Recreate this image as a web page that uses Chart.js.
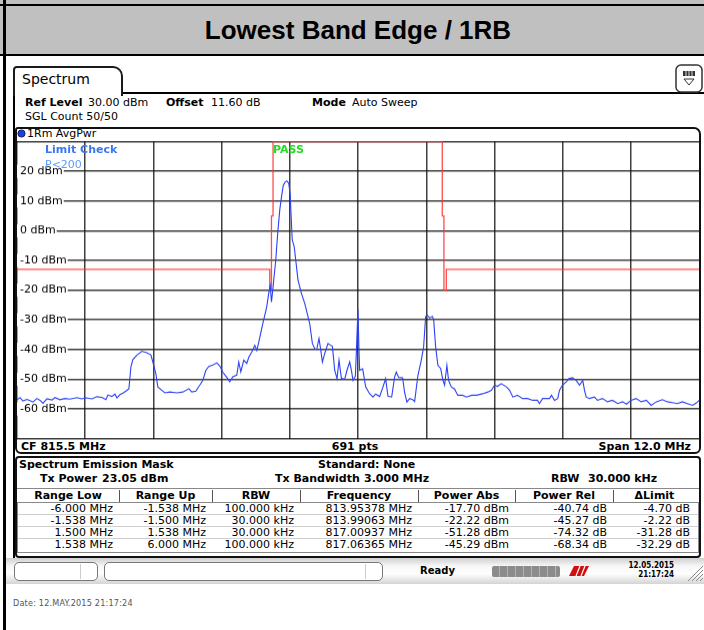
<!DOCTYPE html>
<html>
<head>
<meta charset="utf-8">
<title>Lowest Band Edge / 1RB</title>
<script src="https://cdn.jsdelivr.net/npm/chart.js@4.4.1/dist/chart.umd.min.js"></script>
<style>
  html, body { margin: 0; padding: 0; }
  body { width: 704px; height: 630px; position: relative; overflow: hidden; background: #fff;
         font-family: "DejaVu Sans", sans-serif; font-size: 11px; color: #000; }
  .a { position: absolute; white-space: nowrap; line-height: 13px; }
  .b { font-weight: bold; }
  .blk { position: absolute; background: #000; }
  #spec { position: absolute; z-index: 2; }
  .cell { position: absolute; white-space: nowrap; line-height: 13px; }
</style>
</head>
<body>

<!-- title band -->
<div class="a" style="left:0;top:0;width:704px;height:56px;background:#c0c0c0;"></div>
<div class="blk" style="left:0;top:4px;width:704px;height:2px;"></div>
<div class="blk" style="left:0;top:54px;width:704px;height:2px;"></div>
<div class="a" style="left:8px;top:15px;width:700px;text-align:center;font:bold 26px 'Liberation Sans',Arial,sans-serif;line-height:30px;">Lowest Band Edge / 1RB</div>
<div class="blk" style="left:3px;top:0;width:3px;height:630px;"></div>

<!-- Spectrum tab + panel -->
<div class="blk" style="left:122px;top:92px;width:582px;height:2px;"></div>
<div class="a" style="left:13px;top:66px;width:106px;height:28px;border:2px solid #1a1a1a;border-bottom:none;border-radius:4px 10px 0 0;background:#fff;z-index:1;"></div>
<div class="a" style="left:22px;top:71px;font-size:14px;line-height:16px;z-index:1;">Spectrum</div>
<div class="blk" style="left:13px;top:92px;width:2px;height:466px;"></div>
<svg class="a" style="left:675px;top:64px;" width="28" height="29">
  <rect x="1" y="1" width="26" height="27" rx="5" ry="5" fill="#fff" stroke="#333" stroke-width="1.5"/>
  <rect x="8" y="7" width="12" height="5" fill="#333"/>
  <line x1="11" y1="7" x2="11" y2="12" stroke="#ddd"/>
  <line x1="14" y1="7" x2="14" y2="12" stroke="#ddd"/>
  <line x1="17" y1="7" x2="17" y2="12" stroke="#ddd"/>
  <path d="M9 15 L19 15 L14 21 Z" fill="none" stroke="#333" stroke-width="1"/>
</svg>

<!-- setting info -->
<div class="a b" style="left:25px;top:96px;">Ref Level</div>
<div class="a" style="left:88px;top:96px;">30.00 dBm</div>
<div class="a b" style="left:166px;top:96px;">Offset</div>
<div class="a" style="left:211px;top:96px;">11.60 dB</div>
<div class="a b" style="left:312px;top:96px;">Mode</div>
<div class="a" style="left:352px;top:96px;">Auto Sweep</div>
<div class="a" style="left:25px;top:110px;">SGL Count 50/50</div>

<!-- trace box -->
<div class="a" style="left:15px;top:127px;width:686px;height:327px;box-sizing:border-box;border:2px solid #111;border-radius:3px 7px 6px 6px;z-index:3;pointer-events:none;"></div>
<svg class="a" style="left:17px;top:129px;" width="10" height="10"><circle cx="4.5" cy="4.5" r="3.6" fill="#1f3fe0" stroke="#102070" stroke-width="1"/></svg>
<div class="a" style="left:27px;top:127px;">1Rm AvgPwr</div>

<canvas id="spec" width="683" height="296" style="left:17px;top:142px;"></canvas>

<div class="a b" style="left:45px;top:143px;color:#3a78f0;z-index:4;">Limit Check</div>
<div class="a" style="left:45px;top:158px;color:#5c9cf6;z-index:4;">P&lt;200</div>
<div class="a b" style="left:273px;top:143px;color:#22dd22;z-index:4;">PASS</div>

<div class="a b" style="left:21px;top:440px;">CF 815.5 MHz</div>
<div class="a b" style="left:305px;top:440px;width:100px;text-align:center;">691 pts</div>
<div class="a b" style="left:540px;top:440px;width:151px;text-align:right;">Span 12.0 MHz</div>

<!-- emission mask table -->
<div class="a" style="left:15px;top:456px;width:686px;height:102px;box-sizing:border-box;border:2px solid #111;border-radius:4px;"></div>
<div class="a b" style="left:19px;top:458px;">Spectrum Emission Mask</div>
<div class="a b" style="left:318px;top:458px;">Standard: None</div>
<div class="a b" style="left:40px;top:472px;">Tx Power</div>
<div class="a b" style="left:102px;top:472px;">23.05 dBm</div>
<div class="a b" style="left:275px;top:472px;">Tx Bandwidth</div>
<div class="a b" style="left:364px;top:472px;">3.000 MHz</div>
<div class="a b" style="left:551px;top:472px;">RBW</div>
<div class="a b" style="left:588px;top:472px;">30.000 kHz</div>
<div id="sem"></div>

<!-- status bar -->
<div class="a" style="left:6px;top:558px;width:698px;height:26px;background:linear-gradient(#cfcfcf,#f6f6f6 30%,#ffffff 60%,#d4d4d4);"></div>
<div class="a" style="left:14px;top:562px;width:84px;height:19px;box-sizing:border-box;border:1px solid #777;border-radius:5px;background:#fff;"></div>
<div class="a" style="left:80px;top:564px;width:1px;height:15px;background:#ccc;"></div>
<div class="a" style="left:104px;top:562px;width:279px;height:19px;box-sizing:border-box;border:1px solid #777;border-radius:5px;background:#fff;"></div>
<div class="a" style="left:365px;top:564px;width:1px;height:15px;background:#ccc;"></div>
<div class="a b" style="left:420px;top:565px;font-size:10px;line-height:12px;">Ready</div>
<div class="a" style="left:492px;top:566px;width:68px;height:11px;border-radius:2px;background:repeating-linear-gradient(90deg,#8c8c8c 0 7px,#b4b4b4 7px 8px);"></div>
<svg class="a" style="left:567px;top:564px;" width="24" height="14">
  <path d="M2 12 L7 2 L22 2 L17 12 Z" fill="#d01010"/>
  <line x1="9" y1="12" x2="13" y2="2" stroke="#fff" stroke-width="1.2"/>
  <line x1="14" y1="12" x2="18" y2="2" stroke="#fff" stroke-width="1.2"/>
</svg>
<div class="a b" style="left:600px;top:561px;width:74px;text-align:right;font-family:'DejaVu Sans Condensed','DejaVu Sans';font-size:8px;line-height:10px;">12.05.2015</div>
<div class="a b" style="left:600px;top:570px;width:74px;text-align:right;font-family:'DejaVu Sans Condensed','DejaVu Sans';font-size:8px;line-height:10px;">21:17:24</div>
<svg class="a" style="left:686px;top:564px;" width="18" height="18">
  <line x1="17" y1="2" x2="2" y2="17" stroke="#888"/>
  <line x1="17" y1="6" x2="6" y2="17" stroke="#888"/>
  <line x1="17" y1="10" x2="10" y2="17" stroke="#888"/>
  <line x1="17" y1="14" x2="14" y2="17" stroke="#888"/>
</svg>

<div class="a" style="left:13px;top:597px;font-family:'DejaVu Sans Condensed','DejaVu Sans';font-size:9px;line-height:12px;color:#555;letter-spacing:0.2px;">Date: 12.MAY.2015  21:17:24</div>

<script>
// ---- trace 1 (1Rm AvgPwr) ----
// offset from centre frequency (MHz) and level (dBm)
const CF_MHZ = 815.5;
const SPAN_MHZ = 12;

const traceOffset = [
  -6.000, -5.947, -5.895, -5.824, -5.772, -5.719, -5.649, -5.596, -5.543, -5.473,
  -5.385, -5.332, -5.245, -5.157, -5.069, -4.946, -4.858, -4.788, -4.682, -4.595,
  -4.507, -4.436, -4.401, -4.331, -4.278, -4.243, -4.190, -4.138, -4.085, -4.032,
  -3.997, -3.962, -3.892, -3.804, -3.716, -3.646, -3.611, -3.558, -3.523, -3.453,
  -3.400, -3.312, -3.189, -3.084, -2.978, -2.925, -2.855, -2.785, -2.732, -2.679,
  -2.627, -2.556, -2.486, -2.433, -2.381, -2.310, -2.258, -2.205, -2.135, -2.100,
  -2.064, -2.012, -1.959, -1.924, -1.871, -1.818, -1.783, -1.748, -1.678, -1.643,
  -1.608, -1.573, -1.546, -1.525, -1.502, -1.485, -1.450, -1.414, -1.379, -1.344,
  -1.318, -1.291, -1.256, -1.221, -1.195, -1.177, -1.160, -1.124, -1.098, -1.058,
  -0.998, -0.940, -0.882, -0.852, -0.805, -0.764, -0.729, -0.689, -0.659, -0.629,
  -0.589, -0.531, -0.488, -0.453, -0.413, -0.372, -0.337, -0.295, -0.237, -0.197,
  -0.149, -0.119, -0.091, -0.049, -0.026, -0.004, 0.014, 0.026, 0.079, 0.132,
  0.202, 0.260, 0.307, 0.378, 0.436, 0.483, 0.524, 0.589, 0.641, 0.671,
  0.712, 0.782, 0.817, 0.857, 0.905, 0.958, 0.993, 1.051, 1.110, 1.151,
  1.186, 1.209, 1.256, 1.304, 1.327, 1.362, 1.402, 1.450, 1.490, 1.520,
  1.560, 1.590, 1.638, 1.696, 1.753, 1.836, 1.906, 1.994, 2.082, 2.187,
  2.281, 2.346, 2.398, 2.451, 2.516, 2.609, 2.662, 2.720, 2.802, 2.890,
  2.978, 3.071, 3.154, 3.189, 3.242, 3.365, 3.400, 3.453, 3.510, 3.540,
  3.593, 3.658, 3.704, 3.769, 3.834, 3.892, 3.950, 3.980, 4.010, 4.067,
  4.155, 4.208, 4.296, 4.384, 4.472, 4.565, 4.647, 4.718, 4.800, 4.888,
  4.976, 5.069, 5.152, 5.245, 5.350, 5.438, 5.526, 5.614, 5.701, 5.789,
  5.882, 5.947, 6.000
];
const traceLevel = [
  -56.9, -56.2, -57.3, -56.8, -57.2, -57.7, -56.5, -57.1, -58.1, -56.6,
  -57.0, -56.2, -56.9, -56.5, -56.7, -56.2, -56.6, -56.3, -56.6, -55.9,
  -56.1, -56.9, -55.3, -55.8, -55.0, -56.3, -55.2, -54.7, -54.0, -53.2,
  -45.9, -43.4, -41.9, -40.6, -41.1, -41.8, -44.2, -48.1, -52.6, -53.7,
  -54.6, -54.3, -54.6, -54.3, -53.2, -54.3, -54.0, -52.0, -50.4, -47.0,
  -45.7, -45.2, -44.5, -45.6, -47.6, -49.4, -50.9, -49.2, -48.6, -44.2,
  -47.5, -43.6, -44.7, -42.6, -40.8, -38.6, -40.3, -37.5, -31.3, -28.5,
  -25.6, -21.1, -18.5, -24.0, -20.0, -16.6, -10.0, -0.5, 7.0, 12.0,
  15.2, 16.2, 16.8, 16.0, 12.0, 4.0, -3.0, -5.5, -9.9, -16.6,
  -21.1, -24.5, -29.0, -31.3, -38.0, -39.7, -40.0, -36.3, -40.0, -44.2,
  -41.4, -38.0, -38.5, -39.0, -47.0, -49.8, -43.6, -49.7, -50.0, -47.0,
  -44.2, -47.0, -50.4, -49.0, -38.0, -26.5, -40.0, -47.0, -46.5, -52.6,
  -54.9, -56.0, -55.0, -55.8, -52.6, -49.8, -55.7, -56.0, -49.2, -47.6,
  -49.4, -49.5, -54.5, -57.7, -56.5, -56.9, -57.5, -48.7, -43.6, -39.1,
  -29.0, -28.4, -29.3, -28.8, -29.8, -39.1, -45.3, -46.4, -50.3, -52.0,
  -45.3, -50.4, -52.6, -53.3, -55.4, -55.4, -56.0, -55.4, -55.4, -54.9,
  -54.3, -53.7, -52.0, -52.4, -51.5, -52.6, -53.7, -56.0, -55.4, -56.5,
  -56.5, -57.1, -57.1, -58.2, -56.5, -56.5, -55.4, -57.1, -56.5, -53.7,
  -52.0, -50.9, -49.8, -49.5, -50.4, -52.0, -50.4, -53.7, -56.0, -56.5,
  -56.0, -57.1, -56.5, -57.6, -57.1, -58.2, -57.6, -58.4, -57.1, -56.5,
  -57.6, -57.1, -58.8, -57.6, -56.9, -57.6, -57.9, -58.2, -57.6, -58.2,
  -58.8, -58.0, -57.1
];

// ---- emission mask limit line ----
const limitOffset = [-6, -1.555, -1.555, -1.525, -1.525, -1.497, -1.497, 1.479, 1.479, 1.508, 1.508, 1.550, 1.550, 6];
const limitLevel  = [-13, -13, -20, -20, 5, 5, 30, 30, 5, 5, -20, -20, -13, -13];

// ---- axis ----
const REF_LEVEL = 30;
const BOTTOM_LEVEL = -70;
const yTickValues = [20, 10, 0, -10, -20, -30, -40, -50, -60];

// ---- result table ----
const semHeaders = ['Range Low', 'Range Up', 'RBW', 'Frequency', 'Power Abs', 'Power Rel', '\u0394Limit'];
const rangeLow   = ['-6.000 MHz', '-1.538 MHz', '1.500 MHz', '1.538 MHz'];
const rangeUp    = ['-1.538 MHz', '-1.500 MHz', '1.538 MHz', '6.000 MHz'];
const rbwCol     = ['100.000 kHz', '30.000 kHz', '30.000 kHz', '100.000 kHz'];
const freqCol    = ['813.95378 MHz', '813.99063 MHz', '817.00937 MHz', '817.06365 MHz'];
const powerAbs   = ['-17.70 dBm', '-22.22 dBm', '-51.28 dBm', '-45.29 dBm'];
const powerRel   = ['-40.74 dB', '-45.27 dB', '-74.32 dB', '-68.34 dB'];
const deltaLimit = ['-4.70 dB', '-2.22 dB', '-31.28 dB', '-32.29 dB'];

// column edges of the table (layout only)
const colEdges = [17, 119, 212, 300, 418, 515, 613, 696];

function buildTable() {
    const sem = document.getElementById('sem');
    const cols = [rangeLow, rangeUp, rbwCol, freqCol, powerAbs, powerRel, deltaLimit];
    let html = '';
    html += `<div class="a" style="left:17px;top:488px;width:682px;height:14px;box-sizing:border-box;border-top:1px solid #888;"></div>`;
    html += `<div class="a" style="left:17px;top:502px;width:682px;height:51px;box-sizing:border-box;border:1px solid #888;"></div>`;
    for (let r = 1; r < 4; r++) {
        html += `<div class="a" style="left:18px;top:${502 + r * 12}px;width:680px;height:1px;background:#cfcfcf;"></div>`;
    }
    semHeaders.forEach((h, c) => {
        const l = colEdges[c], w = colEdges[c + 1] - colEdges[c];
        html += `<div class="cell b" style="left:${l}px;top:489px;width:${w}px;text-align:center;">${h}</div>`;
        if (c > 0) html += `<div class="a" style="left:${l}px;top:490px;width:1px;height:12px;background:#555;"></div>`;
        cols[c].forEach((v, r) => {
            html += `<div class="cell" style="left:${l}px;top:${502 + r * 12}px;width:${w - 6}px;text-align:right;">${v}</div>`;
        });
    });
    sem.innerHTML = html;
}

function renderSpectrum() {
    const canvas = document.getElementById('spec');
    const trace = traceOffset.map((f, i) => ({ x: f, y: traceLevel[i] }));
    const limit = limitOffset.map((f, i) => ({ x: f, y: limitLevel[i] }));
    const gridColor = 'rgba(15,15,15,0.8)';

    const chart = new Chart(canvas, {
        type: 'line',
        data: {
            datasets: [
                { label: '1Rm AvgPwr', data: trace, borderColor: '#2b40f4', borderWidth: 1.1,
                  pointRadius: 0, tension: 0 },
                { label: 'Limit', data: limit, borderColor: 'rgba(255,45,45,0.85)', borderWidth: 1.3,
                  pointRadius: 0, tension: 0, clip: { left: 0, right: 0, top: 2, bottom: 0 } }
            ]
        },
        options: {
            responsive: false,
            maintainAspectRatio: false,
            animation: false,
            devicePixelRatio: 1,
            events: [],
            layout: { padding: 0 },
            plugins: { legend: { display: false }, tooltip: { enabled: false } },
            scales: {
                x: {
                    type: 'linear', min: -SPAN_MHZ / 2, max: SPAN_MHZ / 2,
                    ticks: { count: 11, display: false },
                    grid: { color: gridColor, lineWidth: 1.5, drawTicks: false },
                    border: { display: false }
                },
                y: {
                    min: BOTTOM_LEVEL, max: REF_LEVEL,
                    ticks: {
                        stepSize: 10, mirror: true, padding: 3, color: '#000',
                        font: { family: 'DejaVu Sans', size: 11 },
                        callback: v => yTickValues.includes(v) ? v + ' dBm' : '',
                        showLabelBackdrop: c => yTickValues.includes(c.tick.value),
                        backdropColor: '#fff',
                        backdropPadding: { left: 4, right: 1, top: 0, bottom: 0 }
                    },
                    grid: { color: gridColor, lineWidth: 1.5, drawTicks: false },
                    border: { display: false }
                }
            }
        }
    });

    // fit the plot area exactly onto the screen grid (17..700 x 142..438)
    let ca = chart.chartArea;
    chart.resize(683 + (chart.width - (ca.right - ca.left)), 296 + (chart.height - (ca.bottom - ca.top)));
    ca = chart.chartArea;
    canvas.style.left = (17 - ca.left) + 'px';
    canvas.style.top = (142 - ca.top) + 'px';
}

buildTable();
renderSpectrum();
</script>
</body>
</html>
